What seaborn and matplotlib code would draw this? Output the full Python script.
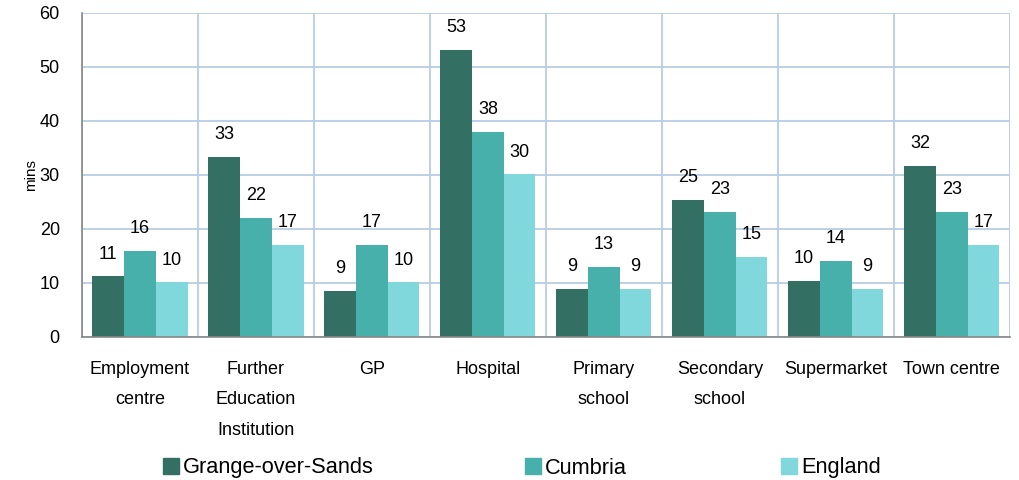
import numpy as np
import pandas as pd
import matplotlib
matplotlib.use("Agg")
import matplotlib.pyplot as plt
import seaborn as sns

categories = ["Employment\ncentre", "Further\nEducation\nInstitution", "GP", "Hospital",
              "Primary\nschool", "Secondary\nschool", "Supermarket", "Town centre"]
series = ["Grange-over-Sands", "Cumbria", "England"]
grange = [11.2, 33.4, 8.6, 53.1, 8.9, 25.3, 10.4, 31.6]
cumbria = [16.0, 22.0, 17.1, 37.9, 13.0, 23.1, 14.1, 23.1]
england = [10.1, 17.1, 10.1, 30.1, 8.9, 14.9, 8.9, 17.1]
colors = ["#336f62", "#48b0ab", "#80d8dd"]

df = pd.DataFrame({
    "category": categories * 3,
    "series": [s for s in series for _ in categories],
    "mins": grange + cumbria + england,
})

sns.set_style("white")
plt.rcParams["font.family"] = ["Liberation Sans", "DejaVu Sans"]
plt.rcParams["text.color"] = "black"
plt.rcParams["xtick.color"] = "black"
plt.rcParams["ytick.color"] = "black"
plt.rcParams["axes.labelcolor"] = "black"

fig = plt.figure(figsize=(10.2, 4.8), dpi=100)
ax = fig.add_axes([0.0804, 0.298, 0.9096, 0.675])

sns.barplot(data=df, x="category", y="mins", hue="series", palette=colors,
            width=0.82, saturation=1, ax=ax, legend=False, errorbar=None,
            linewidth=0)

for cont in ax.containers:
    ax.bar_label(cont, labels=[f"{b.get_height():.0f}" for b in cont],
                 padding=10, fontsize=13)

ax.set_ylim(0, 60)
ax.set_yticks(range(0, 61, 10))
ax.set_xlim(-0.5, len(categories) - 0.5)
ax.set_xlabel("")
ax.set_ylabel("mins", fontsize=11)
ax.yaxis.set_label_coords(-0.047, 0.5)

# grid: horizontal at y ticks, vertical at category boundaries
ax.set_xticks(np.arange(-0.5, len(categories), 1), minor=True)
ax.grid(True, axis="y", color="#b9cde5", lw=1.3)
ax.grid(True, axis="x", which="minor", color="#b9cde5", lw=1.3)
ax.set_axisbelow(True)
ax.tick_params(axis="x", which="major", length=0, pad=17, labelsize=13)
ax.tick_params(axis="x", which="minor", length=5, color="#868686", direction="out")
ax.tick_params(axis="y", color="#868686", labelsize=13, tickdir="inout",
               length=8, pad=12)
for lbl in ax.get_xticklabels():
    lbl.set_linespacing(2.07)
    lbl.set_verticalalignment("top")

for side in ["top", "right"]:
    ax.spines[side].set_visible(False)
for side in ["left", "bottom"]:
    ax.spines[side].set_color("#868686")
    ax.spines[side].set_linewidth(1.2)

# legend entries placed individually, as in the reference
legend_x = [0.160, 0.515, 0.766]
for name, c, lx in zip(series, colors, legend_x):
    fig.legend([plt.Rectangle((0, 0), 1, 1, color=c)], [name],
               loc="center left", bbox_to_anchor=(lx, 0.025),
               frameon=False, fontsize=15.7,
               handlelength=0.73, handleheight=0.73, handletextpad=0.18,
               borderpad=0, borderaxespad=0)

fig.savefig("out.png", dpi=100)
